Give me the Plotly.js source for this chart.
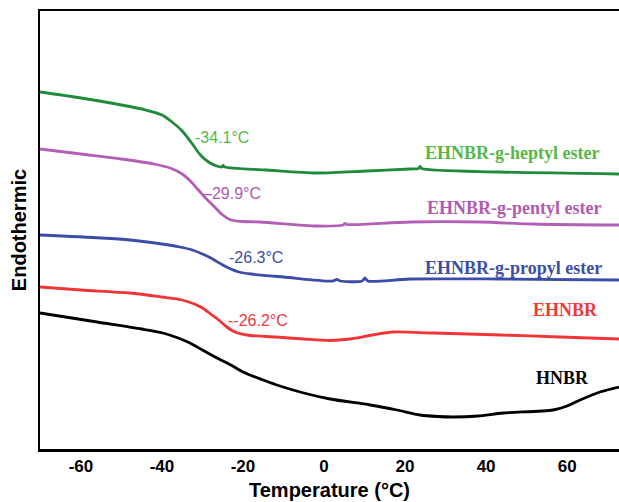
<!DOCTYPE html>
<html><head><meta charset="utf-8">
<script src="https://cdn.plot.ly/plotly-3.0.1.min.js"></script>
<style>html,body{margin:0;padding:0;background:#fff}#chart{width:619px;height:502px}</style>
</head><body><div id="chart"></div>
<script>
// Temperature (°C) and heat-flow (arbitrary units, endothermic up)
const heptylT = [-70.1,-60,-50,-44,-40,-37.5,-35,-32.5,-30.5,-28.5,-26.5,-25.3,-24.9,-24.5,-14.1,-1.7,10.6,21.2,23.3,23.7,24.1,43.5,72.8];
const heptylV = [357,351,344,339,334,327,318,305,294,287,283,282,283.5,282,279,276,278,280,280.5,282.5,280.5,277,275];
const pentylT = [-70.1,-60,-50,-42,-38,-35,-33,-31,-29,-27,-25,-23,-20,-15.8,-1.7,4.7,5.2,5.7,21.2,38.5,51.6,72.8];
const pentylV = [300,295,290,285,281,275,268,259,250,242,234,229,227.5,227,223,224,225.5,224.5,227,227,225,224];
const propylT = [-70.1,-55,-47.9,-40,-35.6,-32.5,-30,-27.5,-25,-23,-21,-18,-10,2.2,3.2,4.0,9.4,10.1,10.8,21.2,43.5,72.8];
const propylV = [214,211,209,205,202,199,195,190,184,180,177,175,172,168,169.5,168,168,171,168,170,170,169];
const ehnbrT = [-70.1,-60,-47.9,-40,-35,-32,-30,-28,-26,-24,-22,-19,-12,-5,1.5,6.4,12,17,26.9,43.5,58.3,72.8];
const ehnbrV = [162,159,156,152,149,145,141,135,129,122,117,114,112,110,108.5,110,114,117,116,114,112,110];
const hnbrT = [-70.1,-56,-45,-39.8,-36,-33.1,-30,-26.4,-23,-20,-15,-10.9,-5,1.5,11.4,18,23.7,28,31.9,38,44.2,56.5,60,63.2,68.1,72.8];
const hnbrV = [136,127,120,116,111,106,99,91,84,77,69,63,56,50,44,39,34,32.5,32,33,36,39,43,49,57,62];

const seriesNames = ["EHNBR-g-heptyl ester","EHNBR-g-pentyl ester","EHNBR-g-propyl ester","EHNBR","HNBR"];
const tgLabels = ["-34.1°C","\u201329.9°C","-26.3°C","--26.2°C"];
const xTicks = [-60,-40,-20,0,20,40,60];

const lineColors = ["#1f8b3b","#b25fb5","#3b4da8","#ef3535","#000000"];
const textColors = ["#55b848","#b25ab2","#3c4fa6","#ee3a3a","#000000"];
const xs = [heptylT,pentylT,propylT,ehnbrT,hnbrT];
const ys = [heptylV,pentylV,propylV,ehnbrV,hnbrV];

const data = xs.map((x,i)=>({x:x,y:ys[i],type:'scatter',mode:'lines',name:seriesNames[i],
  line:{color:lineColors[i],width:2.8,shape:'spline',smoothing:0.8},hoverinfo:'skip'}));

const tgPos = [[-25.2,312],[-22.7,256],[-16.8,192],[-16.3,129]];
const labPos = [[46.4,296],[47.0,241],[46.8,181],[59.5,139],[58.9,71]];
const annotations = [];
tgLabels.forEach((t,i)=>annotations.push({x:tgPos[i][0],y:tgPos[i][1],xref:'x',yref:'y',text:t,showarrow:false,
  font:{family:'Liberation Sans, Arial, sans-serif',size:16,color:textColors[i]},xanchor:'center',yanchor:'middle'}));
seriesNames.forEach((t,i)=>annotations.push({x:labPos[i][0],y:labPos[i][1],xref:'x',yref:'y',text:'<b>'+t+'</b>',showarrow:false,
  font:{family:'Liberation Serif, Times New Roman, serif',size:18,color:textColors[i]},xanchor:'center',yanchor:'middle'}));

const layout = {
  width:619,height:502,margin:{l:40,r:0,t:11,b:53},
  paper_bgcolor:'#fff',plot_bgcolor:'#fff',showlegend:false,
  xaxis:{range:[-70.1,72.8],tickvals:xTicks,ticktext:xTicks.map(String),showgrid:false,zeroline:false,
    showline:true,linewidth:2.5,linecolor:'#000',mirror:true,ticks:'',
    tickfont:{family:'Liberation Sans, Arial, sans-serif',size:17,color:'#000',weight:'bold'},
    title:{text:'<b>Temperature (°C)</b>',font:{family:'Liberation Sans, Arial, sans-serif',size:20,color:'#000'},standoff:8}},
  yaxis:{range:[0,438],showticklabels:false,showgrid:false,zeroline:false,ticks:'',
    showline:true,linewidth:2.5,linecolor:'#000',mirror:false,
    title:{text:'<b>Endothermic</b>',font:{family:'Liberation Sans, Arial, sans-serif',size:20,color:'#000'},standoff:6}},
  annotations:annotations
};
Plotly.newPlot('chart',data,layout,{displayModeBar:false,staticPlot:true});
</script></body></html>
